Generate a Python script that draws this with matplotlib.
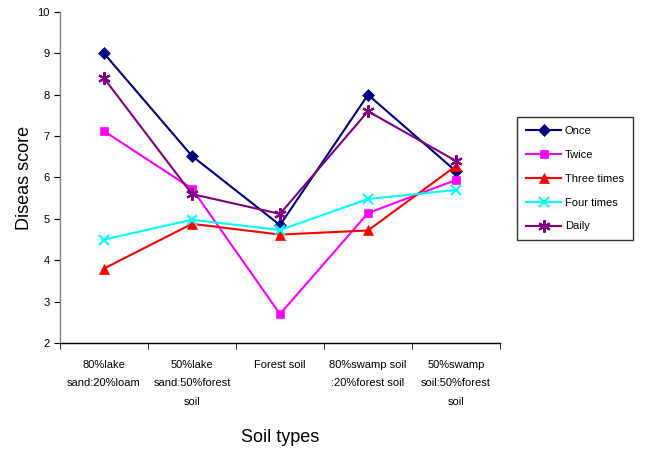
import matplotlib
matplotlib.use("Agg")
import matplotlib.pyplot as plt
import numpy as np

plt.rcParams['font.family'] = ['Liberation Sans', 'DejaVu Sans']

categories = ["80%lake\nsand:20%loam", "50%lake\nsand:50%forest\nsoil", "Forest soil",
              "80%swamp soil\n:20%forest soil", "50%swamp\nsoil:50%forest\nsoil"]
once = [9.0, 6.52, 4.85, 8.0, 6.15]
twice = [7.12, 5.73, 2.7, 5.14, 5.94]
three_times = [3.8, 4.88, 4.62, 4.72, 6.28]
four_times = [4.5, 4.98, 4.73, 5.48, 5.7]
daily = [8.4, 5.6, 5.12, 7.6, 6.4]

series = [
    ("Once", once, "#000080", "D", 6),
    ("Twice", twice, "#FF00FF", "s", 6),
    ("Three times", three_times, "#FF0000", "^", 7),
    ("Four times", four_times, "#00FFFF", "x", 7),
    ("Daily", daily, "#800080", (6, 2, 0), 9),
]

fig = plt.figure(figsize=(6.53, 4.57), dpi=100)
ax = fig.add_axes([60/653, 1-343/457, 440/653, 331/457])
x = np.arange(len(categories))
for name, vals, col, mk, ms in series:
    kw = dict(markeredgewidth=1.5) if mk in ("x",) or isinstance(mk, tuple) else dict(markeredgewidth=0.5)
    ax.plot(x, vals, color=col, marker=mk, markersize=ms, linewidth=1.5, label=name,
            markerfacecolor=col, markeredgecolor=col, **kw)

ax.set_xlim(-0.5, 4.5)
ax.set_ylim(2, 10)
ax.set_yticks(range(2, 11))
ax.set_xticks(x)
ax.set_xticklabels(categories, fontsize=8, linespacing=2.1, va='top')
ax.tick_params(axis='x', which='major', length=0, pad=12)
ax.set_xticks(np.arange(-0.5, 5, 1), minor=True)
ax.tick_params(axis='x', which='minor', length=4, direction='out')
ax.tick_params(axis='y', labelsize=8, length=4, direction='out')
ax.spines['top'].set_visible(False)
ax.spines['right'].set_visible(False)
for s in ('left', 'bottom'):
    ax.spines[s].set_linewidth(1.0)
ax.spines['left'].set_color('#808080')
fig.text(280/653, 1-437/457, "Soil types", fontsize=13, ha='center', va='center')
ax.set_ylabel("Diseas score", fontsize=13, labelpad=3)

leg = ax.legend(loc='upper left', bbox_to_anchor=(517/653, 1-117/457), bbox_transform=fig.transFigure,
                fontsize=8, frameon=True, fancybox=False, edgecolor='black', handlelength=3.2,
                handletextpad=0.3, labelspacing=1.25, borderpad=0.8, borderaxespad=0)
leg.get_frame().set_linewidth(1.0)

fig.savefig("out.png", dpi=100)
